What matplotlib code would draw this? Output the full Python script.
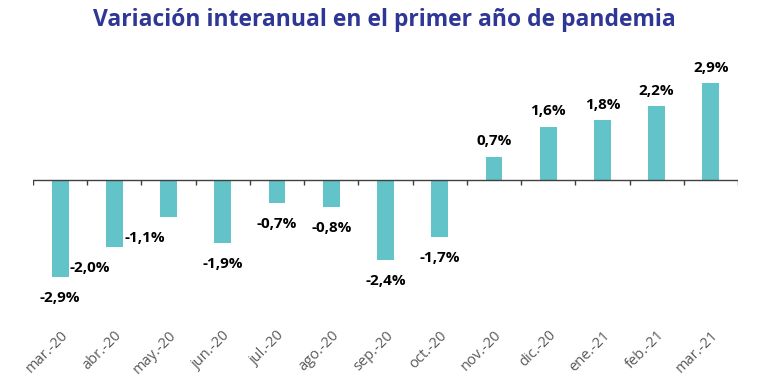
import matplotlib.pyplot as plt
import numpy as np

months = ['mar.-20', 'abr.-20', 'may.-20', 'jun.-20', 'jul.-20', 'ago.-20', 'sep.-20',
          'oct.-20', 'nov.-20', 'dic.-20', 'ene.-21', 'feb.-21', 'mar.-21']
values = [-2.9, -2.0, -1.1, -1.9, -0.7, -0.8, -2.4, -1.7, 0.7, 1.6, 1.8, 2.2, 2.9]
labels = ['-2,9%', '-2,0%', '-1,1%', '-1,9%', '-0,7%', '-0,8%', '-2,4%', '-1,7%',
          '0,7%', '1,6%', '1,8%', '2,2%', '2,9%']

bar_color = '#62c3c9'
title_color = '#2e3796'

fig = plt.figure(figsize=(7.68, 3.87), dpi=100)
# axes spans px 33..738 horizontally, 60..325 vertically
ax = fig.add_axes([33 / 768, 1 - 325 / 387, 705 / 768, 265 / 387])

x = np.arange(len(months))
ax.bar(x, values, width=0.31, color=bar_color, zorder=2)

ax.set_xlim(-0.5, len(months) - 0.5)
ax.set_ylim(-4.34, 3.59)

# zero line with category separators
ax.axhline(0, color='#404040', lw=1.0, zorder=3)
ax.vlines(np.arange(len(months) + 1) - 0.5, -0.15, 0, color='#404040', lw=1.0, zorder=3)

# a couple of labels sit shifted to the left in the original
x_shift = [0, -0.45, -0.43, 0, 0, 0, 0, 0, 0, 0, 0, 0, 0]
for xi, v, lab, dx in zip(x, values, labels, x_shift):
    if v < 0:
        ax.annotate(lab, (xi + dx, v), xytext=(0, -15), textcoords='offset points',
                    ha='center', va='center', fontsize=11, fontweight='bold',
                    family='Open Sans', color='black', annotation_clip=False)
    else:
        ax.annotate(lab, (xi, v), xytext=(0, 11), textcoords='offset points',
                    ha='center', va='center', fontsize=11, fontweight='bold',
                    family='Open Sans', color='black', annotation_clip=False)

ax.set_xticks(x)
ax.set_xticklabels(months, rotation=45, ha='right', rotation_mode='anchor',
                   fontsize=10.5, color='#595959', family='Open Sans')
ax.tick_params(axis='x', length=0, pad=2)
ax.set_yticks([])
for s in ax.spines.values():
    s.set_visible(False)

fig.text(0.5, 1 - 20 / 387, 'Variación interanual en el primer año de pandemia',
         ha='center', va='center', fontsize=16.5, fontweight='bold',
         color=title_color, family='Open Sans')

fig.savefig('out.png', dpi=100)
